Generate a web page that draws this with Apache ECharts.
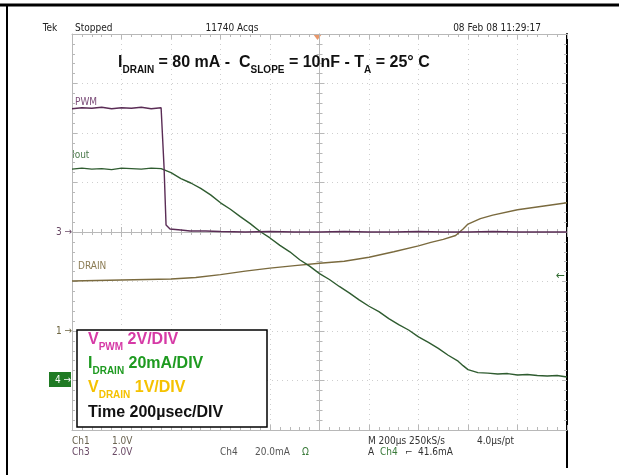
<!DOCTYPE html>
<html>
<head>
<meta charset="utf-8">
<script src="https://cdn.jsdelivr.net/npm/echarts@6/dist/echarts.min.js"></script>
<style>
  html, body { margin: 0; padding: 0; background: #fff; }
  #scope { width: 619px; height: 475px; }
</style>
</head>
<body>
<div id="scope"></div>
<script>
// time axis in µs (200 µs/div), vertical values in divisions from screen centre
var timeTicks = [-1000, -800, -600, -400, -200, 0, 200, 400, 600, 800, 1000]

// Ch3 - PWM
var pwmTrace = [
  [-1000, 2.49], [-960, 2.51], [-920, 2.5], [-880, 2.52], [-840, 2.49],
  [-800, 2.51], [-760, 2.5], [-720, 2.52], [-680, 2.49], [-640, 2.51],
  [-636, 2.5], [-628, 1.3], [-620, 0.14], [-604, 0.06], [-560, 0.04],
  [-523, 0.02], [-460, 0.02], [-400, 0.01], [-300, 0.0], [-200, 0.01],
  [-100, 0.0], [0, 0.0], [100, 0.01], [200, 0.0], [300, 0.0],
  [400, 0.01], [500, 0.0], [600, 0.0], [700, 0.01], [800, 0.0],
  [900, 0.0], [1000, 0.0]
]

// Ch4 - Iout
var ioutTrace = [
  [-1000, 1.27], [-960, 1.29], [-920, 1.27], [-880, 1.28], [-840, 1.26],
  [-800, 1.29], [-760, 1.28], [-720, 1.27], [-680, 1.29], [-640, 1.28],
  [-600, 1.2], [-560, 1.08], [-520, 0.99], [-480, 0.88], [-440, 0.75],
  [-400, 0.59], [-360, 0.46], [-320, 0.31], [-280, 0.17], [-240, 0.01],
  [-200, -0.12], [-160, -0.27], [-120, -0.4], [-80, -0.56], [-40, -0.69],
  [0, -0.84], [40, -0.96], [80, -1.1], [120, -1.23], [160, -1.37],
  [200, -1.5], [240, -1.61], [280, -1.75], [320, -1.87], [360, -1.98],
  [400, -2.12], [440, -2.23], [480, -2.35], [520, -2.49], [560, -2.61],
  [580, -2.7], [600, -2.78], [640, -2.84], [680, -2.85], [720, -2.87],
  [760, -2.86], [800, -2.89], [840, -2.88], [880, -2.9], [920, -2.91],
  [960, -2.9], [1000, -2.93]
]

// Ch1 - DRAIN
var drainTrace = [
  [-1000, -0.99], [-900, -0.98], [-800, -0.97], [-700, -0.96], [-600, -0.95],
  [-500, -0.92], [-400, -0.86], [-300, -0.79], [-200, -0.73], [-100, -0.68],
  [0, -0.63], [100, -0.59], [200, -0.51], [300, -0.4], [400, -0.28],
  [450, -0.21], [500, -0.15], [550, -0.07], [580, 0.06], [600, 0.16],
  [650, 0.27], [700, 0.34], [800, 0.45], [900, 0.52], [1000, 0.59]
]

var scopeFont = "'Liberation Sans Narrow', 'DejaVu Sans Condensed', sans-serif"
var boldFont = "'Liberation Sans', Arial, sans-serif"

var gridColor = '#b8b8b8'

function xAxisOf (position, offset, inside, showSplit) {
  return {
    type: 'value',
    position: position,
    offset: offset,
    min: timeTicks[0],
    max: timeTicks[timeTicks.length - 1],
    interval: 200,
    axisLine: { show: true, onZero: false, lineStyle: { color: gridColor, width: 1 } },
    axisTick: { show: true, inside: inside, length: 5, lineStyle: { color: gridColor } },
    minorTick: { show: true, splitNumber: 5, length: 3, lineStyle: { color: gridColor } },
    axisLabel: { show: false },
    splitLine: { show: showSplit, lineStyle: { color: '#cfcfcf', type: [1, 4] } }
  }
}

function yAxisOf (position, offset, inside, showSplit, lineColor) {
  return {
    type: 'value',
    position: position,
    offset: offset,
    min: -4,
    max: 4,
    interval: 1,
    axisLine: { show: true, onZero: false, lineStyle: { color: lineColor || gridColor, width: lineColor ? 2 : 1 } },
    axisTick: { show: true, inside: inside, length: 5, lineStyle: { color: gridColor } },
    minorTick: { show: true, splitNumber: 5, length: 3, lineStyle: { color: gridColor } },
    axisLabel: { show: false },
    splitLine: { show: showSplit, lineStyle: { color: '#cfcfcf', type: [1, 4] } }
  }
}

var chart = echarts.init(document.getElementById('scope'))

chart.setOption({
  animation: false,
  backgroundColor: '#fff',
  grid: { left: 72, right: 52, top: 34, bottom: 45 },
  xAxis: [
    xAxisOf('bottom', 0, true, true),
    xAxisOf('top', 0, true, false),
    xAxisOf('bottom', -198, true, false),
    xAxisOf('bottom', -198, false, false)
  ],
  yAxis: [
    yAxisOf('left', 0, true, true),
    yAxisOf('right', 0, true, false, '#000'),
    yAxisOf('left', -247.5, true, false),
    yAxisOf('left', -247.5, false, false)
  ],
  series: [
    {
      name: 'DRAIN',
      type: 'line',
      showSymbol: false,
      data: drainTrace,
      lineStyle: { color: '#7a6a3e', width: 1.4 },
      z: 3
    },
    {
      name: 'Iout',
      type: 'line',
      showSymbol: false,
      data: ioutTrace,
      lineStyle: { color: '#2f5c30', width: 1.4 },
      z: 4
    },
    {
      name: 'PWM',
      type: 'line',
      showSymbol: false,
      data: pwmTrace,
      lineStyle: { color: '#5a2c55', width: 1.4 },
      z: 5
    }
  ],
  graphic: [
    // page frame
    { type: 'line', shape: { x1: 0, y1: 5, x2: 619, y2: 5 }, style: { stroke: '#000', lineWidth: 3 } },
    { type: 'line', shape: { x1: 7, y1: 4, x2: 7, y2: 475 }, style: { stroke: '#000', lineWidth: 2 } },
    { type: 'line', shape: { x1: 567, y1: 36, x2: 567, y2: 468 }, style: { stroke: '#000', lineWidth: 2 } },

    // header
    { type: 'text', style: { text: 'Tek', x: 50, y: 28, fill: '#222', fontSize: 10, fontFamily: scopeFont, align: 'center', verticalAlign: 'middle' } },
    { type: 'text', style: { text: 'Stopped', x: 75, y: 28, fill: '#222', fontSize: 10, fontFamily: scopeFont, verticalAlign: 'middle' } },
    { type: 'text', style: { text: '11740 Acqs', x: 232, y: 28, fill: '#222', fontSize: 10, fontFamily: scopeFont, align: 'center', verticalAlign: 'middle' } },
    { type: 'text', style: { text: '08 Feb 08 11:29:17', x: 497, y: 28, fill: '#222', fontSize: 10, fontFamily: scopeFont, align: 'center', verticalAlign: 'middle' } },
    { type: 'polygon', shape: { points: [[313, 34], [322, 34], [317.5, 40]] }, style: { fill: '#e8976a' } },

    // title
    {
      type: 'text',
      z: 10,
      style: {
        text: '{m|I}{s|DRAIN}{m| = 80 mA -  C}{s|SLOPE}{m| = 10nF - T}{s|A}{m| = 25° C}',
        x: 118,
        y: 63,
        verticalAlign: 'middle',
        rich: {
          m: { fontSize: 16, fontWeight: 'bold', fontFamily: boldFont, fill: '#111', lineHeight: 20 },
          s: { fontSize: 10, fontWeight: 'bold', fontFamily: boldFont, fill: '#111', lineHeight: 24, verticalAlign: 'bottom' }
        }
      }
    },

    // trace labels
    { type: 'text', style: { text: 'PWM', x: 75, y: 102, fill: '#7d4e7a', fontSize: 10, fontFamily: scopeFont, verticalAlign: 'middle' } },
    { type: 'text', style: { text: 'Iout', x: 72, y: 155, fill: '#4c7a4c', fontSize: 10, fontFamily: scopeFont, verticalAlign: 'middle' } },
    { type: 'text', style: { text: 'DRAIN', x: 78, y: 266, fill: '#8a7a52', fontSize: 10, fontFamily: scopeFont, verticalAlign: 'middle' } },

    // channel markers
    { type: 'text', style: { text: '3 →', x: 56, y: 232, fill: '#6a4a66', fontSize: 10, fontFamily: scopeFont, verticalAlign: 'middle' } },
    { type: 'text', style: { text: '1 →', x: 56, y: 331, fill: '#6e6540', fontSize: 10, fontFamily: scopeFont, verticalAlign: 'middle' } },
    { type: 'rect', shape: { x: 49, y: 372, width: 22, height: 15 }, style: { fill: '#1f7a23' } },
    { type: 'text', style: { text: '4 →', x: 55, y: 380, fill: '#fff', fontSize: 10, fontFamily: scopeFont, verticalAlign: 'middle' } },
    { type: 'text', style: { text: '←', x: 556, y: 276, fill: '#2f6b2f', fontSize: 12, fontFamily: scopeFont, verticalAlign: 'middle' } },

    // scale box
    { type: 'rect', z: 20, shape: { x: 77, y: 330, width: 190, height: 97 }, style: { fill: '#fff', stroke: '#000', lineWidth: 1.5 } },
    {
      type: 'text',
      z: 21,
      style: {
        text: '{m|V}{s|PWM}{m| 2V/DIV}',
        x: 88, y: 340, verticalAlign: 'middle',
        rich: {
          m: { fontSize: 16, fontWeight: 'bold', fontFamily: boldFont, fill: '#d63aa6', lineHeight: 20 },
          s: { fontSize: 10, fontWeight: 'bold', fontFamily: boldFont, fill: '#d63aa6', lineHeight: 25, verticalAlign: 'bottom' }
        }
      }
    },
    {
      type: 'text',
      z: 21,
      style: {
        text: '{m|I}{s|DRAIN}{m| 20mA/DIV}',
        x: 88, y: 364, verticalAlign: 'middle',
        rich: {
          m: { fontSize: 16, fontWeight: 'bold', fontFamily: boldFont, fill: '#1e9a20', lineHeight: 20 },
          s: { fontSize: 10, fontWeight: 'bold', fontFamily: boldFont, fill: '#1e9a20', lineHeight: 25, verticalAlign: 'bottom' }
        }
      }
    },
    {
      type: 'text',
      z: 21,
      style: {
        text: '{m|V}{s|DRAIN}{m| 1V/DIV}',
        x: 88, y: 388, verticalAlign: 'middle',
        rich: {
          m: { fontSize: 16, fontWeight: 'bold', fontFamily: boldFont, fill: '#f5c200', lineHeight: 20 },
          s: { fontSize: 10, fontWeight: 'bold', fontFamily: boldFont, fill: '#f5c200', lineHeight: 25, verticalAlign: 'bottom' }
        }
      }
    },
    { type: 'text', z: 21, style: { text: 'Time 200µsec/DIV', x: 88, y: 413, fill: '#111', fontSize: 16, fontWeight: 'bold', fontFamily: boldFont, verticalAlign: 'middle' } },

    // bottom readout
    { type: 'text', style: { text: 'Ch1', x: 72, y: 441, fill: '#6a6350', fontSize: 10, fontFamily: scopeFont, verticalAlign: 'middle' } },
    { type: 'text', style: { text: '1.0V', x: 112, y: 441, fill: '#6a6350', fontSize: 10, fontFamily: scopeFont, verticalAlign: 'middle' } },
    { type: 'text', style: { text: 'Ch3', x: 72, y: 452, fill: '#6a4a66', fontSize: 10, fontFamily: scopeFont, verticalAlign: 'middle' } },
    { type: 'text', style: { text: '2.0V', x: 112, y: 452, fill: '#6a4a66', fontSize: 10, fontFamily: scopeFont, verticalAlign: 'middle' } },
    { type: 'text', style: { text: 'Ch4', x: 220, y: 452, fill: '#555', fontSize: 10, fontFamily: scopeFont, verticalAlign: 'middle' } },
    { type: 'text', style: { text: '20.0mA', x: 255, y: 452, fill: '#555', fontSize: 10, fontFamily: scopeFont, verticalAlign: 'middle' } },
    { type: 'text', style: { text: 'Ω', x: 302, y: 452, fill: '#3a7a3a', fontSize: 10, fontFamily: scopeFont, verticalAlign: 'middle' } },
    { type: 'text', style: { text: 'M 200µs 250kS/s', x: 368, y: 441, fill: '#333', fontSize: 10, fontFamily: scopeFont, verticalAlign: 'middle' } },
    { type: 'text', style: { text: '4.0µs/pt', x: 477, y: 441, fill: '#333', fontSize: 10, fontFamily: scopeFont, verticalAlign: 'middle' } },
    { type: 'text', style: { text: 'A', x: 368, y: 452, fill: '#333', fontSize: 10, fontFamily: scopeFont, verticalAlign: 'middle' } },
    { type: 'text', style: { text: 'Ch4', x: 380, y: 452, fill: '#3a7a3a', fontSize: 10, fontFamily: scopeFont, verticalAlign: 'middle' } },
    { type: 'text', style: { text: '⌐', x: 405, y: 452, fill: '#333', fontSize: 10, fontFamily: scopeFont, verticalAlign: 'middle' } },
    { type: 'text', style: { text: '41.6mA', x: 418, y: 452, fill: '#333', fontSize: 10, fontFamily: scopeFont, verticalAlign: 'middle' } }
  ]
})
</script>
</body>
</html>
